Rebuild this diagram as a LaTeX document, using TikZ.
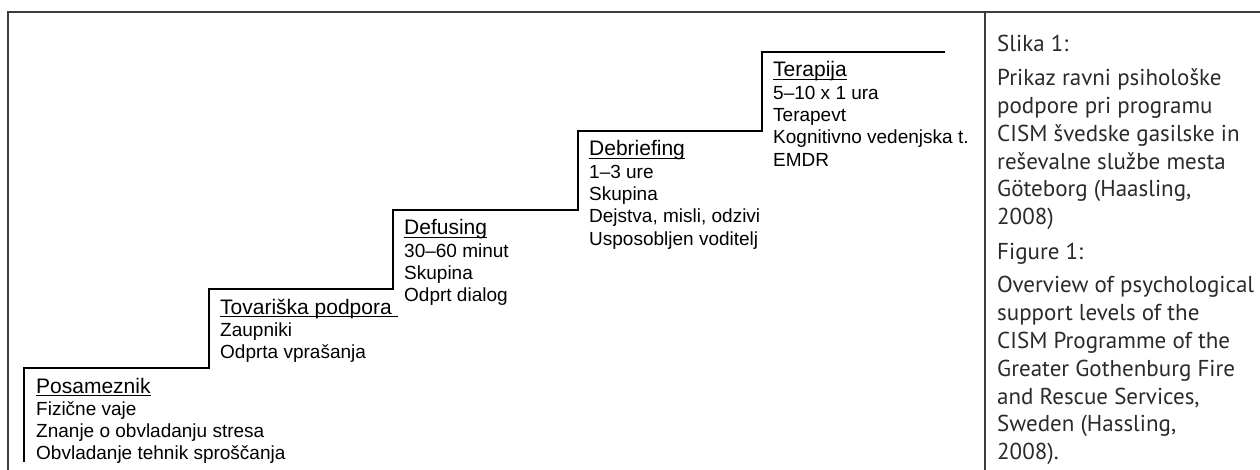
\documentclass[tikz,border=0pt]{standalone}
\usepackage{fontspec}
\setmainfont{Liberation Sans}
\newfontfamily\capfont{PT Sans}
\definecolor{framegray}{HTML}{3C3C3C}
\definecolor{captext}{HTML}{2A2A2A}
% underline at a fixed depth below the baseline
\newcommand\ulx[1]{\setbox0=\hbox{#1}\rlap{\rule[-3pt]{\wd0}{1.2pt}}\box0}
\newcommand\bodysize{\fontsize{19pt}{22.3pt}\selectfont}
\newcommand\titlesize{\fontsize{21pt}{22.3pt}\selectfont}
\newcommand\capsize{\capfont\fontsize{23pt}{27.8pt}\selectfont}
\begin{document}
\begin{tikzpicture}[x=1pt,y=-1pt,
  frame/.style={draw=framegray,line width=1.4pt},
  stair/.style={draw=black,line width=1.8pt,line join=miter},
  steptext/.style={anchor=base west,inner sep=0pt,text=black},
  captext/.style={anchor=base west,inner sep=0pt,text=captext}]
\useasboundingbox (0,0) rectangle (1260,470);
% outer frame and caption divider
\draw[frame] (8,470) -- (8,12) -- (1260,12);
\draw[frame] (985,12) -- (985,470);
% staircase
\draw[stair] (24,462) -- (24,368) -- (209,368) -- (209,289) -- (393,289)
  -- (393,210) -- (578,210) -- (578,131) -- (762,131) -- (762,52) -- (945,52);
% step labels
\node[steptext] (posameznik) at (36,393) {\vtop{\bodysize
  \hbox{\titlesize\ulx{Posameznik}}
  \hbox{Fizične vaje}
  \hbox{Znanje o obvladanju stresa}
  \hbox{Obvladanje tehnik sproščanja}}};
\node[steptext] (tovariska) at (220,314) {\vtop{\bodysize
  \hbox{\titlesize\ulx{Tovariška podpora\ }}
  \hbox{Zaupniki}
  \hbox{Odprta vprašanja}}};
\node[steptext] (defusing) at (404,235) {\vtop{\bodysize
  \hbox{\titlesize\ulx{Defusing}}
  \hbox{30–60 minut}
  \hbox{Skupina}
  \hbox{Odprt dialog}}};
\node[steptext] (debriefing) at (589,156) {\vtop{\bodysize
  \hbox{\titlesize\ulx{Debriefing}}
  \hbox{1–3 ure}
  \hbox{Skupina}
  \hbox{Dejstva, misli, odzivi}
  \hbox{Usposobljen voditelj}}};
\node[steptext] (terapija) at (773,77) {\vtop{\bodysize
  \hbox{\titlesize\ulx{Terapija}}
  \hbox{5–10 x 1 ura}
  \hbox{Terapevt}
  \hbox{Kognitivno vedenjska t.}
  \hbox{EMDR}}};
% caption
\node[captext] (slika) at (997,52) {\vtop{\capsize
  \hbox{Slika 1:}\kern6pt
  \hbox{Prikaz ravni psihološke}
  \hbox{podpore pri programu}
  \hbox{CISM švedske gasilske in}
  \hbox{reševalne službe mesta}
  \hbox{Göteborg (Haasling,}
  \hbox{2008)}}};
\node[captext] (figure) at (997,259) {\vtop{\capsize
  \hbox{Figure 1:}\kern6pt
  \hbox{Overview of psychological}
  \hbox{support levels of the}
  \hbox{CISM Programme of the}
  \hbox{Greater Gothenburg Fire}
  \hbox{and Rescue Services,}
  \hbox{Sweden (Hassling,}
  \hbox{2008).}}};
\end{tikzpicture}
\end{document}
